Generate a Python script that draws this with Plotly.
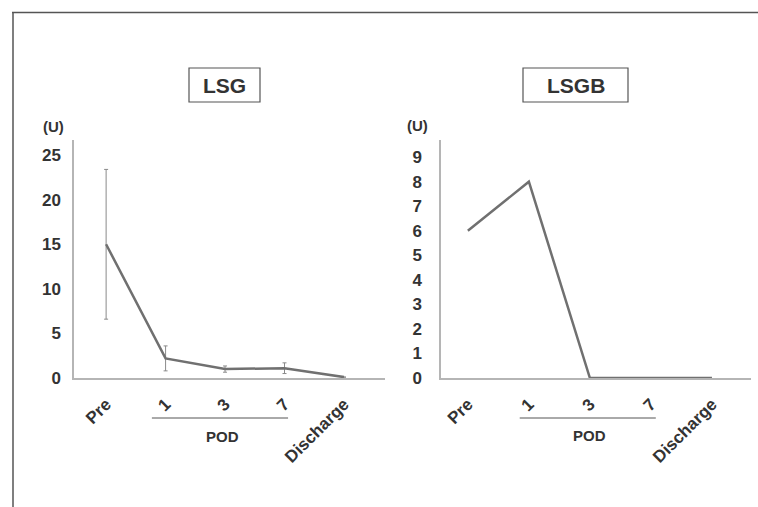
import plotly.graph_objects as go

categories = ["Pre", "1", "3", "7", "Discharge"]
lsg_values = [15.0, 2.2, 1.0, 1.1, 0.1]
lsg_error = [8.4, 1.4, 0.35, 0.6, 0.0]
lsgb_values = [6.0, 8.0, 0.0, 0.0, 0.0]
y_ticks_lsg = [0, 5, 10, 15, 20, 25]
y_ticks_lsgb = list(range(0, 10))

W, H = 758, 507
def px(x): return x / W
def py(y): return 1 - y / H

LINE = "#707070"
AX = "#b5b5b5"
TXT = "#333333"
FONT = "Liberation Sans"

fig = go.Figure()
fig.add_trace(go.Scatter(
    x=categories, y=lsg_values, mode="lines",
    line=dict(color=LINE, width=2.5),
    error_y=dict(type="data", array=lsg_error, visible=True,
                 color="#8a8a8a", thickness=1, width=2),
    xaxis="x", yaxis="y", showlegend=False, hoverinfo="skip"))
fig.add_trace(go.Scatter(
    x=categories, y=lsgb_values, mode="lines",
    line=dict(color=LINE, width=2.5),
    xaxis="x2", yaxis="y2", showlegend=False, hoverinfo="skip"))

tickfont = dict(family=FONT, size=17, color=TXT, weight="bold")
xtickfont = dict(family=FONT, size=17, color=TXT, weight="bold")

common = dict(showgrid=False, zeroline=False, showline=True, linecolor=AX,
              linewidth=1.5, ticks="", automargin=False)

fig.update_layout(
    width=W, height=H,
    margin=dict(l=0, r=0, t=0, b=0, autoexpand=False),
    paper_bgcolor="white", plot_bgcolor="white",
    xaxis=dict(domain=[px(74), px(385)], anchor="y", type="category",
               range=[-0.54, 4.69], tickangle=-45, tickfont=xtickfont,
               ticklabelstandoff=8, **common),
    yaxis=dict(domain=[py(378), py(140)], anchor="x", range=[0, 26.7],
               tickvals=y_ticks_lsg, tickfont=tickfont, ticklabelstandoff=8, **common),
    xaxis2=dict(domain=[px(441), px(751)], anchor="y2", type="category",
                range=[-0.44, 4.64], tickangle=-45, tickfont=xtickfont,
                ticklabelstandoff=8, **common),
    yaxis2=dict(domain=[py(378), py(140)], anchor="x2", range=[0, 9.7],
                tickvals=y_ticks_lsgb, tickfont=tickfont, ticklabelstandoff=14, **common),
)

shapes = [
    # outer frame
    dict(type="line", xref="paper", yref="paper", x0=px(12), x1=1, y0=py(12.5), y1=py(12.5),
         line=dict(color="#555", width=1.5)),
    dict(type="line", xref="paper", yref="paper", x0=px(13), x1=px(13), y0=py(12.5), y1=0,
         line=dict(color="#555", width=1.5)),
    # title boxes
    dict(type="rect", xref="paper", yref="paper", x0=px(189), x1=px(260), y0=py(102), y1=py(68),
         line=dict(color="#555", width=1.2)),
    dict(type="rect", xref="paper", yref="paper", x0=px(523), x1=px(628), y0=py(102), y1=py(68),
         line=dict(color="#555", width=1.2)),
    # POD brackets
    dict(type="line", xref="x", yref="paper", x0=0.77, x1=3.06, y0=py(418), y1=py(418),
         line=dict(color="#555", width=1)),
    dict(type="line", xref="x2", yref="paper", x0=0.85, x1=3.08, y0=py(418), y1=py(418),
         line=dict(color="#555", width=1)),
]
fig.update_layout(shapes=shapes)

ann = []
def text(x, y, s, size, xanchor="center", bold=True):
    ann.append(dict(x=px(x), y=py(y), xref="paper", yref="paper", text=s, showarrow=False,
                    xanchor=xanchor, yanchor="middle",
                    font=dict(family=FONT, size=size, color=TXT, weight="bold" if bold else "normal")))

text(224.5, 86, "LSG", 21)
text(575.5, 86, "LSGB", 21)
text(53, 127, "(U)", 15)
text(417, 126, "(U)", 15)
text(222, 436, "POD", 15)
text(589, 435, "POD", 15)
fig.update_layout(annotations=ann)

fig.write_html(
    "out.html",
    config={"displayModeBar": False},
    post_script=(
        "document.documentElement.style.margin='0';"
        "document.documentElement.style.overflow='hidden';"
        "document.body.style.margin='0';document.body.style.padding='0';"
        "document.body.style.overflow='hidden';"
    ),
)
